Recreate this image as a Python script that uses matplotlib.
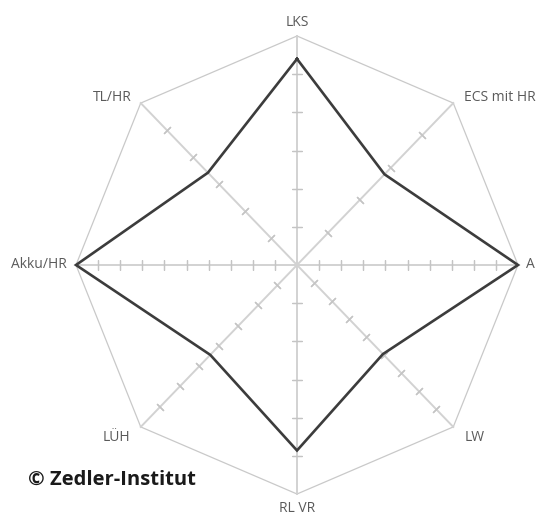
import numpy as np
import matplotlib
matplotlib.use('Agg')
import matplotlib.pyplot as plt

# axes of the radar, clockwise from the top
labels = ['LKS', 'ECS mit HR', 'A', 'LW', 'RL VR', 'LÜH', 'Akku/HR', 'TL/HR']
angles_deg = [90, 45, 0, -45, -90, -135, 180, 135]
values = [0.90, 0.56, 1.00, 0.55, 0.81, 0.555, 1.00, 0.57]
divisions = [6, 5, 10, 9, 6, 8, 10, 6]

plt.rcParams['font.family'] = ['Open Sans', 'DejaVu Sans']

W, H = 537, 515
cx, cy = 297, 265      # centre in pixels (from top left)
rx, ry = 221, 229      # radius in pixels

fig = plt.figure(figsize=(W / 100, H / 100), dpi=100)
ax = fig.add_axes([0, 0, 1, 1])
ax.set_xlim(-cx / rx, (W - cx) / rx)
ax.set_ylim(-(H - cy) / ry, cy / ry)
ax.axis('off')

th = np.radians(angles_deg)
ux = np.cos(th)
uy = np.sin(th)

# outer octagon
ax.plot(np.append(ux, ux[0]), np.append(uy, uy[0]), color='#c9c9c9', lw=0.9, zorder=1)

# spokes with tick marks
for i in range(len(labels)):
    ax.plot([0, ux[i]], [0, uy[i]], color='#d2d2d2', lw=1.4, zorder=1)
    k = np.arange(1, divisions[i]) / divisions[i]
    ax.plot(k * ux[i], k * uy[i], linestyle='none',
            marker=(2, 2, angles_deg[i]), markersize=7, markeredgewidth=0.9,
            color='#c4c4c4', zorder=2)

# data line
v = np.array(values)
ax.plot(np.append(v * ux, v[0] * ux[0]), np.append(v * uy, v[0] * uy[0]),
        color='#3c3c3c', lw=1.9, solid_joinstyle='miter', zorder=3)

# axis labels, offset from the spoke ends in pixels
offsets = [(0, 14), (11, 6), (8, 0), (11, -11), (0, -15), (-10, -11), (-9, 0), (-9, 6)]
for i, lab in enumerate(labels):
    ox, oy = offsets[i]
    if ox == 0:
        ha = 'center'
    elif ox > 0:
        ha = 'left'
    else:
        ha = 'right'
    ax.text(ux[i] + ox / rx, uy[i] + oy / ry, lab, ha=ha, va='center',
            fontsize=10, color='#5a5a5a')

ax.text(28 / rx - cx / rx, -(480 - cy) / ry, '© Zedler-Institut', ha='left', va='center',
        fontsize=14.5, fontweight='bold', color='#1a1a1a')

fig.savefig('out.png', dpi=100)
